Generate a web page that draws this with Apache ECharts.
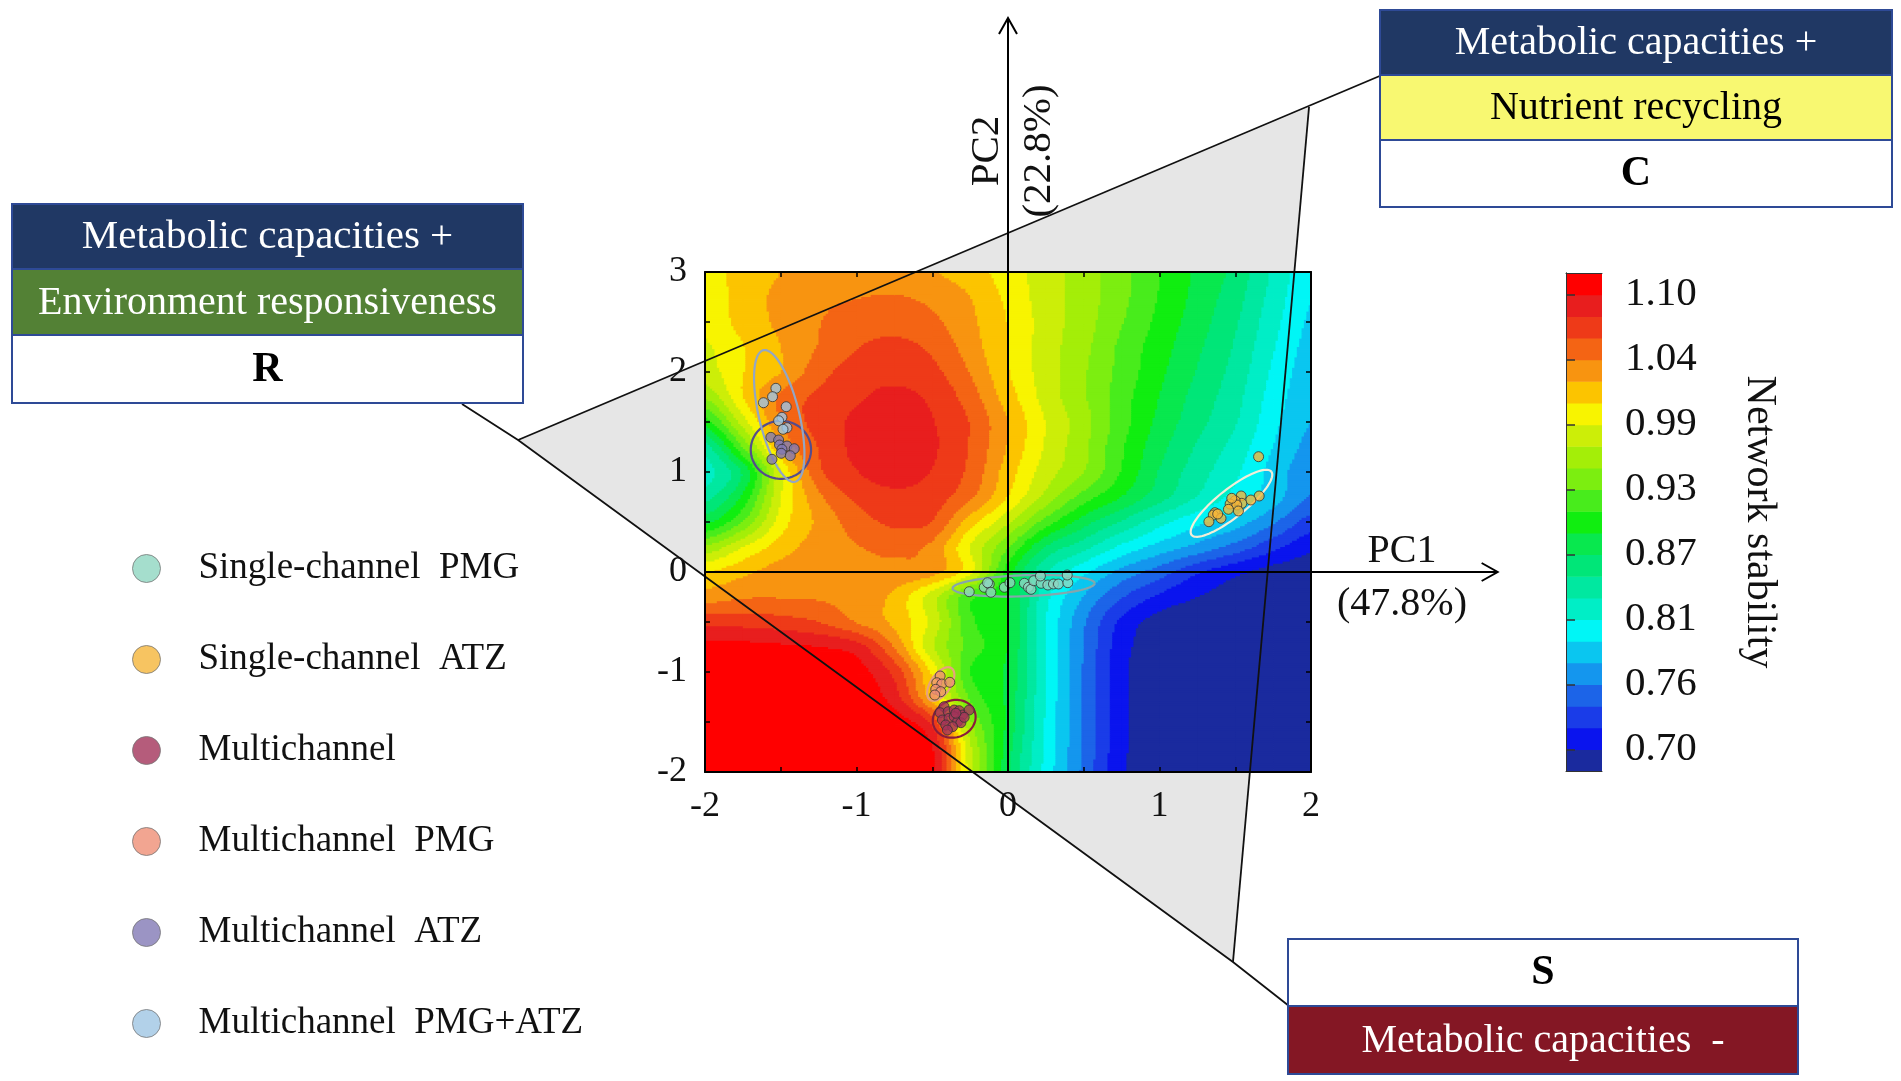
<!DOCTYPE html>
<html><head><meta charset="utf-8">
<script src="https://cdn.jsdelivr.net/npm/echarts@6/dist/echarts.min.js"></script>
<style>html,body{margin:0;padding:0;background:#fff}#c{width:1901px;height:1081px}</style>
</head><body><div id="c"></div>
<script>
// ---------------- data ----------------
const xGrid = [-2,-1.75,-1.5,-1.25,-1,-0.75,-0.5,-0.25,0,0.25,0.5,0.75,1,1.25,1.5,1.75,2];
const yGrid = [3,2.75,2.5,2.25,2,1.75,1.5,1.25,1,0.75,0.5,0.25,0,-0.25,-0.5,-0.75,-1,-1.25,-1.5,-1.75,-2];
// network stability (rows = yGrid, cols = xGrid)
const stability = [
 [0.995,1.014,1.024,1.031,1.033,1.031,1.025,1.014,0.995,0.976,0.957,0.935,0.910,0.887,0.865,0.830,0.800],
 [0.990,1.014,1.028,1.038,1.042,1.044,1.038,1.024,1.000,0.976,0.957,0.934,0.908,0.884,0.860,0.826,0.796],
 [0.990,1.012,1.028,1.042,1.052,1.054,1.047,1.028,1.004,0.977,0.956,0.930,0.904,0.880,0.855,0.821,0.792],
 [0.983,1.004,1.024,1.044,1.061,1.067,1.058,1.033,1.004,0.976,0.953,0.924,0.899,0.875,0.850,0.816,0.788],
 [0.976,1.004,1.024,1.054,1.071,1.075,1.067,1.042,1.006,0.976,0.950,0.922,0.895,0.870,0.845,0.811,0.784],
 [0.950,1.004,1.047,1.066,1.078,1.086,1.077,1.052,1.014,0.978,0.950,0.918,0.890,0.864,0.840,0.806,0.780],
 [0.900,0.976,1.042,1.069,1.085,1.095,1.082,1.061,1.024,0.985,0.955,0.918,0.885,0.859,0.835,0.801,0.776],
 [0.845,0.930,1.024,1.063,1.086,1.095,1.084,1.060,1.022,0.983,0.952,0.912,0.878,0.850,0.826,0.795,0.770],
 [0.825,0.875,0.985,1.057,1.080,1.090,1.080,1.057,1.014,0.976,0.948,0.908,0.870,0.842,0.818,0.788,0.762],
 [0.845,0.895,0.985,1.038,1.066,1.076,1.071,1.047,1.004,0.960,0.920,0.890,0.860,0.832,0.808,0.785,0.755],
 [0.885,0.930,0.995,1.028,1.052,1.066,1.061,1.014,0.970,0.920,0.880,0.850,0.822,0.800,0.785,0.760,0.730],
 [0.950,0.985,1.014,1.033,1.042,1.047,1.038,0.985,0.930,0.870,0.840,0.810,0.788,0.770,0.750,0.725,0.705],
 [1.004,1.019,1.033,1.038,1.038,1.038,1.031,0.990,0.900,0.835,0.800,0.770,0.748,0.722,0.705,0.693,0.688],
 [1.033,1.041,1.042,1.041,1.035,1.019,0.975,0.915,0.890,0.820,0.775,0.740,0.715,0.700,0.692,0.688,0.685],
 [1.075,1.074,1.070,1.062,1.042,1.019,0.980,0.915,0.890,0.815,0.760,0.715,0.692,0.688,0.686,0.685,0.685],
 [1.105,1.105,1.103,1.100,1.090,1.042,0.970,0.920,0.890,0.815,0.757,0.708,0.689,0.686,0.685,0.685,0.685],
 [1.110,1.110,1.110,1.110,1.108,1.075,1.000,0.910,0.885,0.815,0.755,0.705,0.688,0.686,0.685,0.685,0.685],
 [1.110,1.110,1.110,1.110,1.110,1.090,1.014,0.925,0.885,0.813,0.755,0.705,0.688,0.686,0.685,0.685,0.685],
 [1.110,1.110,1.110,1.110,1.110,1.110,1.075,0.950,0.885,0.812,0.755,0.705,0.688,0.686,0.685,0.685,0.685],
 [1.110,1.110,1.110,1.110,1.110,1.110,1.100,0.970,0.880,0.810,0.755,0.705,0.688,0.686,0.685,0.685,0.685],
 [1.110,1.110,1.110,1.110,1.110,1.110,1.105,0.975,0.875,0.808,0.752,0.703,0.688,0.686,0.685,0.685,0.685]
];
// colour bands of the scale (bottom -> top), band width 0.4/21
const bandColors = ['#1A2A9E','#0A14EE','#1A3CE8','#1C64E8','#1496EE','#0AC6F0','#00F6F6','#00EEC6','#00E8A0','#00E678','#08E84E','#10EE10','#48EC1C','#7CEE10','#A4EE08','#CCEE08','#F8F400','#FCC400','#F89410','#F46414','#EE3A18','#E81E1E','#FF0000'];
const bandMin = 0.70 - 0.4/21;
const bandStep = 0.4/21;
const scaleTicks = [0.70, 0.70+0.4/7, 0.70+0.8/7, 0.70+1.2/7, 0.70+1.6/7, 0.70+2.0/7, 0.70+2.4/7, 1.10];

const groupNames = ['Single-channel  PMG','Single-channel  ATZ','Multichannel','Multichannel  PMG','Multichannel  ATZ','Multichannel  PMG+ATZ'];
const groupColors = ['#8ED6C0','#F5B53A','#A3335A','#EF8E76','#8279B5','#9FC6E3'];
const ellipseColors = ['#86A6AC','#F2EED8','#8A1C3C','#E8A27E','#554C8C','#93A6C4'];

const singlePMG = [[-0.256,-0.197],[-0.157,-0.153],[-0.124,-0.12],[-0.113,-0.203],[-0.135,-0.107],[-0.024,-0.153],[0.013,-0.107],[0.108,-0.113],[0.135,-0.153],[0.152,-0.173],[0.17,-0.087],[0.219,-0.113],[0.214,-0.04],[0.263,-0.13],[0.3,-0.12],[0.333,-0.12],[0.395,-0.107],[0.391,-0.03]];
const singleATZ = [[1.654,1.153],[1.658,0.76],[1.603,0.72],[1.539,0.76],[1.543,0.687],[1.499,0.713],[1.466,0.68],[1.51,0.67],[1.521,0.61],[1.455,0.627],[1.477,0.737],[1.366,0.593],[1.355,0.57],[1.406,0.537],[1.326,0.503],[1.384,0.58]];
const multi = [[-0.422,-1.347],[-0.448,-1.407],[-0.395,-1.397],[-0.355,-1.38],[-0.322,-1.387],[-0.3,-1.43],[-0.256,-1.38],[-0.433,-1.48],[-0.389,-1.463],[-0.355,-1.447],[-0.333,-1.497],[-0.311,-1.507],[-0.289,-1.453],[-0.411,-1.53],[-0.366,-1.547],[-0.344,-1.413],[-0.4,-1.58]];
const multiPMG = [[-0.448,-1.04],[-0.47,-1.107],[-0.437,-1.12],[-0.384,-1.103],[-0.477,-1.173],[-0.444,-1.197],[-0.483,-1.23]];
const multiATZ = [[-1.565,1.347],[-1.514,1.32],[-1.508,1.27],[-1.459,1.26],[-1.411,1.233],[-1.492,1.227],[-1.497,1.187],[-1.437,1.163],[-1.558,1.127]];
const multiPMGATZ = [[-1.532,1.837],[-1.554,1.753],[-1.614,1.693],[-1.464,1.653],[-1.492,1.547],[-1.514,1.513],[-1.459,1.443],[-1.485,1.427]];
const groupPoints = [singlePMG, singleATZ, multi, multiPMG, multiATZ, multiPMGATZ];
// confidence ellipses: centre x, centre y, semi-axis vector 1 (x,y), semi-axis vector 2 (x,y)
const ellipses = [
 [0.103,-0.138, 0.469,0.025, 0,0.105],
 [1.475,0.687, 0.263,0.317, 0.058,-0.109],
 [-0.355,-1.468, 0.135,0.074, 0.042,-0.174],
 [-0.444,-1.12, 0.0715,0.158, 0.0546,-0.0564],
 [-1.499,1.222, 0.199,0, 0,0.29],
 [-1.51,1.56, 0.105,-0.658, 0.129,0.047]
];
// framework triangle and arrows, in PC coordinates
const frame = {L:[-3.234,1.32], T:[1.987,4.65], B:[1.485,-3.90], R:[-3.604,1.68], C:[2.469,4.97], S:[1.855,-4.34], pc1Start:[-2,0], pc1Tip:[3.232,0], pc2Start:[0,-2], pc2Tip:[0,5.54]};

// ---------------- chart ----------------
const SERIF = "'Liberation Serif','Times New Roman',serif";
const chart = echarts.init(document.getElementById('c'), null, {renderer:'canvas'});

function bandColor(v){
  let k = Math.floor((v - bandMin)/bandStep);
  if (k < 0) k = 0; if (k > bandColors.length-1) k = bandColors.length-1;
  return bandColors[k];
}
const NCOL = xGrid.length, NROW = yGrid.length;
function gv(j,i){ j=Math.max(0,Math.min(NROW-1,j)); i=Math.max(0,Math.min(NCOL-1,i)); return stability[j][i]; }
function cr(p0,p1,p2,p3,t){ return 0.5*((2*p1)+(-p0+p2)*t+(2*p0-5*p1+4*p2-p3)*t*t+(-p0+3*p1-3*p2+p3)*t*t*t); }
function sampleCell(i,j,s,t){
  const r=[];
  for(let m=-1;m<=2;m++) r.push(cr(gv(j+m,i-1),gv(j+m,i),gv(j+m,i+1),gv(j+m,i+2),s));
  return cr(r[0],r[1],r[2],r[3],t);
}
const cells = [];
for (let j=0;j<NROW-1;j++) for (let i=0;i<NCOL-1;i++)
  cells.push([(xGrid[i]+xGrid[i+1])/2,(yGrid[j]+yGrid[j+1])/2,i,j]);
const NX=16, NY=12;
function renderCell(params, api){
  const i=api.value(2), j=api.value(3);
  const p0=api.coord([xGrid[i],yGrid[j]]), p1=api.coord([xGrid[i+1],yGrid[j+1]]);
  const w=(p1[0]-p0[0])/NX, h=(p1[1]-p0[1])/NY;
  const children=[];
  for(let b=0;b<NY;b++){
    const t=(b+0.5)/NY;
    let start=0, col=null;
    for(let a=0;a<=NX;a++){
      let c=null;
      if(a<NX){const s=(a+0.5)/NX; c=bandColor(sampleCell(i,j,s,t));}
      if(c!==col){
        if(col!==null) children.push({type:'rect',shape:{x:p0[0]+start*w,y:p0[1]+b*h,width:(a-start)*w+0.8,height:h+0.8},style:{fill:col}});
        start=a; col=c;
      }
    }
  }
  return {type:'group',children};
}
function renderEllipse(params, api){
  const e=ellipses[api.value(2)];
  const pts=[];
  for(let k=0;k<=90;k++){const a=k/90*Math.PI*2;
    pts.push(api.coord([e[0]+e[2]*Math.cos(a)+e[4]*Math.sin(a), e[1]+e[3]*Math.cos(a)+e[5]*Math.sin(a)]));}
  return {type:'polyline',shape:{points:pts},style:{stroke:ellipseColors[api.value(2)],lineWidth:2.2,fill:null}};
}
function renderBand(params, api){
  const k=api.value(2);
  const lo=bandMin+k*bandStep, hi=lo+bandStep;
  const a=api.coord([0,hi]), b=api.coord([1,lo]);
  return {type:'rect',shape:{x:a[0],y:a[1],width:b[0]-a[0],height:b[1]-a[1]+0.6},style:{fill:bandColors[k]}};
}
const intLabel = v => (Math.abs(v-Math.round(v))<1e-9 ? String(Math.round(v)) : '');
const axisCommon = {type:'value', splitLine:{show:false}, z:5,
  axisLine:{show:true,onZero:false,lineStyle:{color:'#000',width:2}},
  axisTick:{show:true,inside:true,length:5,lineStyle:{color:'#000',width:1.5}}};

const series = [{
  type:'custom', name:'surface', xAxisIndex:0, yAxisIndex:0, data:cells, renderItem:renderCell,
  clip:true, silent:true, z:2, progressive:0, animation:false
},{
  type:'custom', name:'ellipse', xAxisIndex:0, yAxisIndex:0, data:ellipses.map((e,k)=>[e[0],e[1],k]),
  renderItem:renderEllipse, silent:true, z:4, animation:false
}];
groupNames.forEach((n,k)=>{
  series.push({type:'scatter', name:n, xAxisIndex:0, yAxisIndex:0, data:groupPoints[k], symbol:'circle', symbolSize:10,
    itemStyle:{color:groupColors[k], borderColor:'#333', borderWidth:1}, z:6, animation:false});
});
series.push({type:'custom', name:'scale', xAxisIndex:2, yAxisIndex:2, data:bandColors.map((c,k)=>[0.5,bandMin+(k+0.5)*bandStep,k]),
  renderItem:renderBand, silent:true, z:2, animation:false});

const option = {
  backgroundColor:'#fff',
  animation:false,
  grid:[{left:705, top:272, width:606, height:500},{left:1566, top:273, width:36, height:498}],
  xAxis:[
    Object.assign({}, axisCommon, {gridIndex:0, min:-2, max:2, interval:0.5, position:'bottom',
      axisLabel:{formatter:intLabel, fontSize:36, fontFamily:SERIF, color:'#111', margin:17}}),
    Object.assign({}, axisCommon, {gridIndex:0, min:-2, max:2, interval:0.5, position:'top', axisLabel:{show:false}}),
    {type:'value', gridIndex:1, min:0, max:1, position:'bottom', axisLine:{show:true,lineStyle:{color:'#333',width:1}}, axisTick:{show:false}, axisLabel:{show:false}, splitLine:{show:false}, z:5},
    {type:'value', gridIndex:1, min:0, max:1, position:'top', axisLine:{show:true,lineStyle:{color:'#333',width:1}}, axisTick:{show:false}, axisLabel:{show:false}, splitLine:{show:false}, z:5}
  ],
  yAxis:[
    Object.assign({}, axisCommon, {gridIndex:0, min:-2, max:3, interval:0.5, position:'left',
      axisLabel:{formatter:intLabel, fontSize:36, fontFamily:SERIF, color:'#111', margin:18}}),
    Object.assign({}, axisCommon, {gridIndex:0, min:-2, max:3, interval:0.5, position:'right', axisLabel:{show:false}}),
    {type:'value', gridIndex:1, min:bandMin, max:bandMin+23*bandStep, position:'right', z:5,
      axisLine:{show:true,lineStyle:{color:'#333',width:1}},
      axisTick:{show:true, inside:false, length:9, customValues:scaleTicks, lineStyle:{color:'#333',width:1.5}},
      axisLabel:{customValues:scaleTicks, formatter:v=>v.toFixed(2), fontSize:41, fontFamily:SERIF, color:'#111', margin:23},
      splitLine:{show:false}},
    {type:'value', gridIndex:1, min:bandMin, max:bandMin+23*bandStep, position:'left', z:5,
      axisLine:{show:true,lineStyle:{color:'#333',width:1}}, axisTick:{show:false}, axisLabel:{show:false}, splitLine:{show:false}}
  ],
  legend:{
    data:groupNames, orient:'vertical', left:132, top:550, height:530, padding:0,
    itemWidth:28, itemHeight:28, itemGap:54,
    icon:'circle', selectedMode:false,
    itemStyle:{borderColor:'#777', borderWidth:1},
    textStyle:{fontSize:37, lineHeight:37, fontFamily:SERIF, color:'#111', padding:[0,0,0,33]}
  },
  series
};
chart.setOption(option);

// ---------- annotation layer (framework triangle, arrows, boxes) ----------
const P = k => chart.convertToPixel({gridIndex:0}, frame[k]);
const L=P('L'), T=P('T'), B=P('B'), R=P('R'), C=P('C'), S=P('S');
const a1s=P('pc1Start'), a1t=P('pc1Tip'), a2s=P('pc2Start'), a2t=P('pc2Tip');
const g = [];
g.push({type:'polygon', shape:{points:[L,T,B]}, style:{fill:'#E6E6E6'}, z:0, silent:true});
const lineStyle = {stroke:'#111', lineWidth:1.8, fill:null};
g.push({type:'polyline', shape:{points:[R,L,B,S]}, style:lineStyle, z:3});
g.push({type:'line', shape:{x1:L[0],y1:L[1],x2:C[0],y2:C[1]}, style:lineStyle, z:3});
g.push({type:'line', shape:{x1:T[0],y1:T[1],x2:B[0],y2:B[1]}, style:lineStyle, z:3});
const axStyle = {stroke:'#000', lineWidth:2, fill:null};
g.push({type:'line', shape:{x1:a1s[0],y1:a1s[1],x2:a1t[0],y2:a1t[1]}, style:axStyle, z:7});
g.push({type:'polyline', shape:{points:[[a1t[0]-16,a1t[1]-9],a1t,[a1t[0]-16,a1t[1]+9]]}, style:axStyle, z:7});
g.push({type:'line', shape:{x1:a2s[0],y1:a2s[1],x2:a2t[0],y2:a2t[1]}, style:axStyle, z:7});
g.push({type:'polyline', shape:{points:[[a2t[0]-9,a2t[1]+16],a2t,[a2t[0]+9,a2t[1]+16]]}, style:axStyle, z:7});
g.push({type:'text', x:1402, y:578, z:7, style:{text:'PC1\n(47.8%)', x:0, y:0, font:'40px '+SERIF, lineHeight:53, fill:'#111', textAlign:'center', textVerticalAlign:'middle'}});
g.push({type:'text', x:1013, y:151, rotation:Math.PI/2, z:7, style:{text:'PC2\n(22.8%)', x:0, y:0, font:'41px '+SERIF, lineHeight:52, fill:'#111', textAlign:'center', textVerticalAlign:'middle'}});
g.push({type:'text', x:1759, y:522, rotation:-Math.PI/2, z:7, style:{text:'Network stability', x:0, y:0, font:'42px '+SERIF, fill:'#111', textAlign:'center', textVerticalAlign:'middle'}});

function box(x, w, rows){
  rows.forEach(r=>{
    g.push({type:'rect', shape:{x:x, y:r.y0, width:w, height:r.y1-r.y0}, style:{fill:r.fill, stroke:'#2E4A96', lineWidth:2}, z:8});
    g.push({type:'text', x:x+w/2, y:(r.y0+r.y1)/2+1, z:9, style:{text:r.text, x:0, y:0, font:(r.bold?'bold 42px ':(r.size||40)+'px ')+SERIF, fill:r.color, textAlign:'center', textVerticalAlign:'middle'}});
  });
}
box(12, 511, [
  {y0:204, y1:269, fill:'#203864', text:'Metabolic capacities +', color:'#fff', size:41},
  {y0:269, y1:335, fill:'#538135', text:'Environment responsiveness', color:'#fff'},
  {y0:335, y1:403, fill:'#fff', text:'R', color:'#000', bold:true}
]);
box(1380, 512, [
  {y0:10, y1:75, fill:'#203864', text:'Metabolic capacities +', color:'#fff'},
  {y0:75, y1:140, fill:'#F8F871', text:'Nutrient recycling', color:'#000'},
  {y0:140, y1:207, fill:'#fff', text:'C', color:'#000', bold:true}
]);
box(1288, 510, [
  {y0:939, y1:1006, fill:'#fff', text:'S', color:'#000', bold:true},
  {y0:1006, y1:1074, fill:'#841724', text:'Metabolic capacities  -', color:'#fff'}
]);
chart.setOption({graphic:{elements:g}});
</script>
</body></html>
